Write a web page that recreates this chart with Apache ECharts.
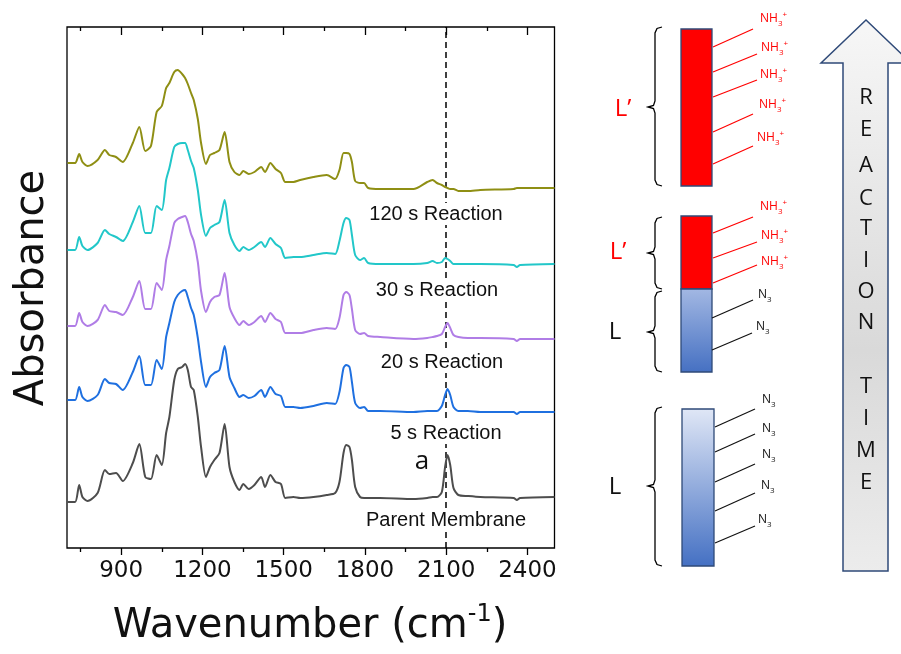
<!DOCTYPE html>
<html>
<head>
<meta charset="utf-8">
<script src="https://cdn.jsdelivr.net/npm/echarts@6/dist/echarts.min.js"></script>
<style>
  html, body { margin: 0; padding: 0; background: #fff; }
  #chart { width: 901px; height: 654px; }
</style>
</head>
<body>
<div id="chart"></div>
<script>
// wavenumber sampling points (cm-1), shared by all spectra
const wavenumbers = [702, 730, 745, 757, 776, 813, 840, 856, 881, 906, 943, 967, 989, 1010, 1031, 1050, 1066, 1078, 1096, 1109, 1125, 1136,
  1146, 1158, 1168, 1183, 1195, 1213, 1228, 1244, 1263, 1282, 1300, 1318, 1337, 1351, 1371, 1392, 1417, 1431, 1451, 1470,
  1490, 1506, 1536, 1561, 1610, 1659, 1690, 1706, 1721, 1731, 1743, 1752, 1764, 1782, 1797, 1812, 1856, 1979, 2030, 2050,
  2066, 2084, 2096, 2105, 2115, 2127, 2145, 2180, 2226, 2349, 2361, 2373, 2500]

// stacked absorbance (offset spectra)
const parentMembrane = [0.46, 0.46, 0.63, 0.51, 0.47, 0.55, 0.78, 0.74, 0.75, 0.67, 0.85, 1.04, 0.71, 0.69, 0.93, 0.83, 1.15, 1.31, 1.68, 1.79, 1.81, 1.84,
  1.78, 1.61, 1.58, 1.31, 1.01, 0.71, 0.81, 0.88, 0.95, 1.24, 0.81, 0.66, 0.58, 0.64, 0.59, 0.63, 0.71, 0.61, 0.73, 0.66,
  0.64, 0.50, 0.51, 0.50, 0.51, 0.53, 0.55, 0.66, 0.95, 1.03, 1.01, 0.88, 0.61, 0.51, 0.50, 0.50, 0.50, 0.49, 0.50, 0.51,
  0.51, 0.56, 0.81, 0.93, 0.83, 0.60, 0.53, 0.52, 0.51, 0.50, 0.48, 0.50, 0.51]
const reaction5s = [1.48, 1.48, 1.61, 1.51, 1.47, 1.53, 1.69, 1.65, 1.64, 1.58, 1.76, 1.92, 1.63, 1.63, 1.88, 1.79, 2.11, 2.25, 2.46, 2.53, 2.57, 2.58,
  2.51, 2.40, 2.33, 2.10, 1.86, 1.61, 1.71, 1.75, 1.78, 2.02, 1.71, 1.60, 1.51, 1.53, 1.50, 1.52, 1.58, 1.51, 1.61, 1.54,
  1.52, 1.41, 1.41, 1.40, 1.42, 1.45, 1.44, 1.56, 1.80, 1.83, 1.81, 1.66, 1.45, 1.40, 1.41, 1.37, 1.37, 1.36, 1.37, 1.37,
  1.37, 1.42, 1.53, 1.59, 1.53, 1.41, 1.37, 1.37, 1.36, 1.36, 1.34, 1.36, 1.36]
const reaction20s = [2.22, 2.22, 2.35, 2.26, 2.22, 2.28, 2.43, 2.37, 2.36, 2.33, 2.51, 2.67, 2.39, 2.39, 2.65, 2.58, 2.88, 3.02, 3.25, 3.29, 3.31, 3.32,
  3.26, 3.14, 3.07, 2.86, 2.57, 2.36, 2.46, 2.51, 2.53, 2.75, 2.41, 2.30, 2.23, 2.27, 2.23, 2.26, 2.32, 2.26, 2.35, 2.29,
  2.26, 2.15, 2.15, 2.15, 2.18, 2.20, 2.19, 2.30, 2.53, 2.56, 2.53, 2.39, 2.18, 2.14, 2.15, 2.12, 2.11, 2.09, 2.10, 2.11,
  2.12, 2.14, 2.21, 2.25, 2.20, 2.13, 2.11, 2.10, 2.10, 2.09, 2.07, 2.09, 2.09]
const reaction30s = [2.98, 2.98, 3.11, 3.02, 2.98, 3.05, 3.18, 3.14, 3.11, 3.07, 3.26, 3.42, 3.15, 3.15, 3.42, 3.38, 3.68, 3.80, 4.01, 4.04, 4.05, 4.05,
  3.98, 3.87, 3.80, 3.58, 3.33, 3.12, 3.20, 3.23, 3.26, 3.48, 3.15, 3.03, 2.97, 3.01, 2.98, 3.01, 3.06, 3.01, 3.10, 3.04,
  3.00, 2.90, 2.91, 2.91, 2.93, 2.95, 2.94, 3.07, 3.25, 3.30, 3.28, 3.13, 2.93, 2.88, 2.90, 2.85, 2.84, 2.84, 2.85, 2.87,
  2.85, 2.86, 2.90, 2.89, 2.87, 2.84, 2.84, 2.84, 2.84, 2.83, 2.81, 2.83, 2.84]
const reaction120s = [3.85, 3.85, 3.94, 3.86, 3.82, 3.88, 3.98, 3.93, 3.91, 3.86, 4.05, 4.21, 3.97, 4.02, 4.36, 4.42, 4.60, 4.65, 4.76, 4.78, 4.74, 4.70,
  4.64, 4.55, 4.48, 4.29, 4.05, 3.84, 3.93, 3.95, 3.98, 4.16, 3.86, 3.76, 3.73, 3.77, 3.74, 3.76, 3.81, 3.76, 3.85, 3.79,
  3.75, 3.66, 3.66, 3.68, 3.71, 3.73, 3.69, 3.78, 3.95, 3.95, 3.94, 3.86, 3.67, 3.65, 3.65, 3.60, 3.59, 3.59, 3.66, 3.68,
  3.65, 3.63, 3.61, 3.60, 3.59, 3.59, 3.57, 3.57, 3.58, 3.59, 3.60, 3.60, 3.60]

const seriesNames = ['Parent Membrane', '5 s Reaction', '20 s Reaction', '30 s Reaction', '120 s Reaction']
const seriesColors = ['#4d4d4d', '#1f70e0', '#b07de6', '#22c7c9', '#8f8f14']
const majorTicks = [900, 1200, 1500, 1800, 2100, 2400]
const minorTicks = [750, 1050, 1350, 1650, 1950, 2250]
const azidePeak = 2100

const spectra = [parentMembrane, reaction5s, reaction20s, reaction30s, reaction120s]

const chart = echarts.init(document.getElementById('chart'), null, { renderer: 'canvas' })

// x 轴：底部刻度朝外，顶部刻度朝内
const makeXAxis = (position, ticks, len, inside, labels) => ({
  type: 'value',
  position,
  min: 700,
  max: 2500,
  axisLine: { show: false },
  splitLine: { show: false },
  axisTick: { show: true, inside, length: len, customValues: ticks, lineStyle: { color: '#000', width: 1.3 } },
  axisLabel: labels
    ? { show: true, customValues: ticks, margin: 12, color: '#111', fontSize: 23, fontFamily: 'DejaVu Sans', formatter: v => String(v) }
    : { show: false }
})

const series = spectra.map((vals, i) => ({
  name: seriesNames[i],
  type: 'line',
  data: wavenumbers.map((w, j) => [w, vals[j]]),
  showSymbol: false,
  smooth: 0.25,
  lineStyle: { color: seriesColors[i], width: 2 },
  z: 3
}))
series[0].markLine = {
  silent: true,
  symbol: 'none',
  label: { show: false },
  lineStyle: { color: '#000', type: [6, 4], width: 1.5 },
  data: [{ xAxis: azidePeak }],
  z: 2
}

// 光谱标签
const labelPos = [[446, 520], [446, 433], [442, 362], [437, 290], [436, 214]]
const specLabels = seriesNames.map((name, i) => ({
  type: 'text', z: 50,
  style: {
    text: name, x: labelPos[i][0], y: labelPos[i][1], align: 'center', verticalAlign: 'middle',
    font: '20px "Liberation Sans"', fill: '#111', backgroundColor: '#fff', padding: [1, 2]
  }
}))

// 右侧示意图
const brace = (y0, y1, ym, color) => ({
  type: 'polyline', z: 20,
  shape: {
    points: [[662, y0], [657, y0 + 1.5], [655, y0 + 6], [655, ym - 6], [653.5, ym - 1.5], [648, ym],
      [653.5, ym + 1.5], [655, ym + 6], [655, y1 - 6], [657, y1 - 1.5], [662, y1]]
  },
  style: { fill: null, stroke: color || '#000', lineWidth: 1.3 }
})
const seg = (p, q, color) => ({
  type: 'line', z: 20,
  shape: { x1: p[0], y1: p[1], x2: q[0], y2: q[1] },
  style: { stroke: color, lineWidth: 1.2 }
})
const nh3 = (x, y) => ({
  type: 'text', z: 20,
  style: {
    text: '{n|NH}{s|3}{p|+}', x, y, align: 'left', verticalAlign: 'middle',
    rich: {
      n: { fontFamily: 'Open Sans', fontSize: 12, lineHeight: 17, fill: '#ff0000' },
      s: { fontFamily: 'Open Sans', fontSize: 8, lineHeight: 9, verticalAlign: 'bottom', fill: '#ff0000' },
      p: { fontFamily: 'Open Sans', fontSize: 8, lineHeight: 9, verticalAlign: 'top', fill: '#ff0000' }
    }
  }
})
const n3 = (x, y) => ({
  type: 'text', z: 20,
  style: {
    text: '{n|N}{s|3}', x, y, align: 'left', verticalAlign: 'middle',
    rich: {
      n: { fontFamily: 'Open Sans', fontSize: 12, lineHeight: 17, fill: '#111' },
      s: { fontFamily: 'Open Sans', fontSize: 8, lineHeight: 9, verticalAlign: 'bottom', fill: '#111' }
    }
  }
})
const bigText = (t, x, y, color, size) => ({
  type: 'text', z: 20,
  style: { text: t, x, y, align: 'center', verticalAlign: 'middle', font: `${size || 22}px "Open Sans"`, fill: color }
})
const vgrad = (c0, c1) => ({
  type: 'linear', x: 0, y: 0, x2: 0, y2: 1,
  colorStops: [{ offset: 0, color: c0 }, { offset: 1, color: c1 }]
})

const schematic = [
  // 箭头
  {
    type: 'polygon', z: 10,
    shape: { points: [[843, 571], [843, 63], [821, 63], [866, 20], [911, 63], [888, 63], [888, 571]] },
    style: {
      fill: { type: 'linear', x: 0, y: 0, x2: 0, y2: 1, colorStops: [
        { offset: 0, color: '#f7f7f7' }, { offset: 0.6, color: '#d9d9d9' }, { offset: 1, color: '#ececec' }] },
      stroke: '#2f4a78', lineWidth: 1.5
    }
  },
  // 方块
  { type: 'rect', z: 15, shape: { x: 681, y: 29, width: 31, height: 157 }, style: { fill: '#ff0000', stroke: '#2f4a78', lineWidth: 1.3 } },
  { type: 'rect', z: 15, shape: { x: 681, y: 216, width: 31, height: 73 }, style: { fill: '#ff0000', stroke: '#2f4a78', lineWidth: 1.3 } },
  { type: 'rect', z: 15, shape: { x: 681, y: 289, width: 31, height: 83 }, style: { fill: vgrad('#a3b8e3', '#4570c2'), stroke: '#2f4a78', lineWidth: 1.3 } },
  { type: 'rect', z: 15, shape: { x: 682, y: 409, width: 32, height: 157 }, style: { fill: vgrad('#e0e7f6', '#4470c3'), stroke: '#2f4a78', lineWidth: 1.3 } },
  brace(27, 186, 107), brace(217, 289, 253), brace(291, 372, 332), brace(407, 566, 486),
  bigText('L’', 623, 109, '#ff0000', 24), bigText('L’', 618, 252, '#ff0000', 24),
  bigText('L', 615, 332, '#111', 24), bigText('L', 615, 487, '#111', 24),
  seg([713, 47], [753, 29], '#ff0000'), seg([713, 72], [757, 54], '#ff0000'), seg([713, 97], [757, 80], '#ff0000'),
  seg([713, 132], [753, 114], '#ff0000'), seg([713, 164], [753, 146], '#ff0000'),
  nh3(760, 19), nh3(761, 48), nh3(760, 75), nh3(759, 105), nh3(757, 138),
  seg([713, 233], [753, 217], '#ff0000'), seg([713, 258], [757, 242], '#ff0000'), seg([713, 283], [757, 265], '#ff0000'),
  nh3(760, 207), nh3(761, 236), nh3(761, 262),
  seg([712, 318], [753, 300], '#111'), seg([712, 350], [752, 333], '#111'),
  n3(758, 295), n3(756, 327),
  seg([715, 427], [755, 409], '#111'), seg([715, 452], [755, 434], '#111'), seg([715, 482], [755, 464], '#111'),
  seg([715, 511], [755, 493], '#111'), seg([715, 543], [755, 526], '#111'),
  n3(762, 400), n3(762, 429), n3(762, 455), n3(761, 486), n3(758, 520)
]
const reactionLetters = [['R', 98], ['E', 130], ['A', 166], ['C', 199], ['T', 229], ['I', 261], ['O', 292], ['N', 323],
  ['T', 387], ['I', 419], ['M', 451], ['E', 483]]
reactionLetters.forEach(([t, y]) => schematic.push(bigText(t, 866, y, '#111', 22)))

chart.setOption({
  animation: false,
  backgroundColor: '#fff',
  grid: { left: 67, top: 27, width: 487.5, height: 521, show: true, borderColor: '#000', borderWidth: 1.3, backgroundColor: 'transparent' },
  xAxis: [
    makeXAxis('bottom', majorTicks, 7, false, true),
    makeXAxis('bottom', minorTicks, 4, false, false),
    makeXAxis('top', majorTicks, 8, true, false),
    makeXAxis('top', minorTicks, 4, true, false)
  ],
  yAxis: { type: 'value', min: 0, max: 5.21, show: false },
  series,
  graphic: [
    ...specLabels,
    {
      type: 'text', z: 50,
      style: { text: 'a', x: 422, y: 462, align: 'center', verticalAlign: 'middle', font: '26px "Open Sans"', fill: '#111' }
    },
    {
      type: 'text', z: 50, rotation: Math.PI / 2, x: 33, y: 288,
      style: { text: 'Absorbance', x: 0, y: 0, align: 'center', verticalAlign: 'middle', font: '40px "DejaVu Sans"', fill: '#111' }
    },
    {
      type: 'text', z: 50,
      style: {
        text: '{m|Wavenumber (cm}{p|-1}{m|)}', x: 310, y: 627, align: 'center', verticalAlign: 'middle',
        rich: {
          m: { fontFamily: 'DejaVu Sans', fontSize: 40, lineHeight: 48, fill: '#111' },
          p: { fontFamily: 'DejaVu Sans', fontSize: 24, lineHeight: 28, verticalAlign: 'top', fill: '#111' }
        }
      }
    },
    ...schematic
  ]
})
</script>
</body>
</html>
